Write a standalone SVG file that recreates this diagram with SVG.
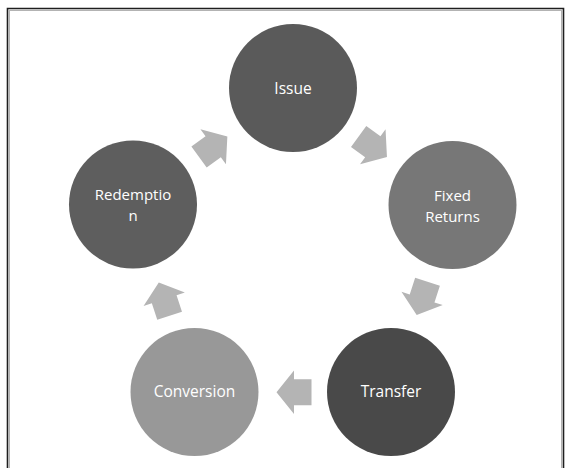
<svg xmlns="http://www.w3.org/2000/svg" width="572" height="468" viewBox="0 0 572 468">
<defs>
<style>
.node text{font-family:"Open Sans","Liberation Sans",sans-serif;font-size:15.5px;fill:#ffffff;text-anchor:middle;dominant-baseline:central}
.node text.two{font-size:15px}
.arr{fill:#b4b4b4}
</style>
<polygon id="ar" points="-17.5,-13 0,-13 0,-21.7 17.5,0 0,21.7 0,13 -17.5,13"/>
</defs>
<rect width="572" height="468" fill="#ffffff"/>
<g id="frame" fill="none">
<path d="M7.5,468 V8.5 H563.5 V468" stroke="#1e1e1e" stroke-width="1.6"/>
<path d="M9.3,468 V10.3 H561.7 V468" stroke="#a0a0a0" stroke-width="1"/>
</g>
<g id="connectors">
<use href="#ar" class="arr" transform="translate(372.8,146.7) rotate(36)"/>
<use href="#ar" class="arr" transform="translate(422.1,298.4) rotate(108)"/>
<use href="#ar" class="arr" transform="translate(294,392.2) rotate(180)"/>
<use href="#ar" class="arr" transform="translate(164.2,299.2) rotate(252)"/>
<use href="#ar" class="arr" transform="translate(213.2,146.7) rotate(324)"/>
</g>
<g id="issue" class="node">
<circle cx="293" cy="88" r="64" fill="#5a5a5a"/>
<text x="293" y="88">Issue</text>
</g>
<g id="fixed-returns" class="node">
<circle cx="452.5" cy="205" r="64" fill="#777777"/>
<text class="two" x="452.5" y="194.8">Fixed</text>
<text class="two" x="452.5" y="215.6">Returns</text>
</g>
<g id="transfer" class="node">
<circle cx="391" cy="392" r="64" fill="#494949"/>
<text x="391" y="391">Transfer</text>
</g>
<g id="conversion" class="node">
<circle cx="194.5" cy="392" r="64" fill="#989898"/>
<text x="194.5" y="391">Conversion</text>
</g>
<g id="redemption" class="node">
<circle cx="133" cy="204.5" r="64" fill="#5e5e5e"/>
<text class="two" x="133" y="194.3">Redemptio</text>
<text class="two" x="133" y="215.1">n</text>
</g>
</svg>
